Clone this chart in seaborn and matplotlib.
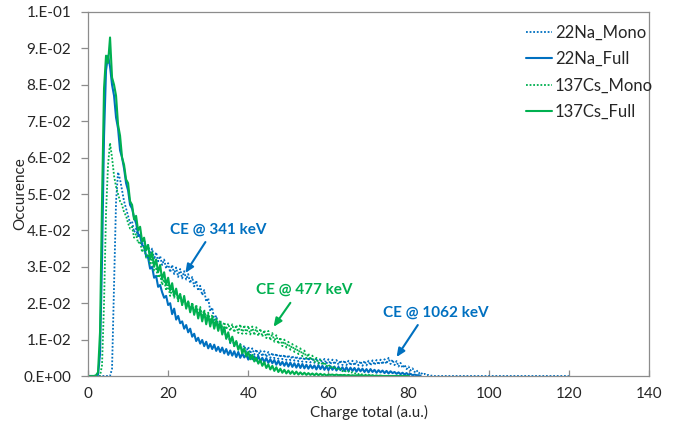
import numpy as np
import pandas as pd
import matplotlib
matplotlib.use("Agg")
import matplotlib.pyplot as plt
import seaborn as sns
from matplotlib.ticker import MultipleLocator, FuncFormatter

# Charge bins are 0.5 a.u. wide, starting at 0; occurrences are given in units of 1e-3.
charge_step = 0.5

na_mono = [
    0, 0, 0, 0, 0, 0, 0, 0, 0, 0,
    0, 0, 2, 25, 48, 56, 54, 51, 48, 46,
    44, 42, 42.5, 39.5, 40.5, 38, 39, 36, 37.5, 35,
    36, 33.5, 35, 32, 34, 31.5, 33, 30.5, 32, 29.5,
    31, 28.5, 30.5, 28, 29.8, 27.2, 29.4, 26.8, 28.8, 26.5,
    28, 25.5, 27.2, 24.6, 26.2, 23.4, 24.8, 22.2, 23.6, 20.4,
    21.4, 17.8, 18.8, 15.4, 16.6, 13.6, 14.8, 11.8, 13.2, 10.2,
    11.4, 9.0, 10.4, 8.2, 9.6, 7.6, 8.8, 7.0, 8.4, 6.6,
    8.0, 6.2, 7.6, 5.9, 7.3, 5.6, 7.0, 5.4, 6.8, 5.2,
    6.6, 5.0, 6.4, 4.9, 6.2, 4.7, 6.0, 4.6, 5.9, 4.4,
    5.8, 4.3, 5.6, 4.2, 5.5, 4.0, 5.3, 3.9, 5.2, 3.8,
    5.1, 3.7, 5.0, 3.6, 4.9, 3.5, 4.8, 3.4, 4.7, 3.3,
    4.6, 3.2, 4.5, 3.2, 4.4, 3.1, 4.3, 3.0, 4.3, 3.0,
    4.2, 2.9, 4.2, 2.9, 4.1, 2.9, 4.1, 2.8, 4.2, 2.9,
    4.2, 2.9, 4.3, 3.0, 4.4, 3.1, 4.5, 3.2, 4.6, 3.3,
    5.0, 3.3, 4.5, 3.0, 4.1, 2.6, 3.6, 2.2, 3.1, 1.9,
    2.6, 1.5, 2.1, 1.1, 1.6, 0.7, 1.1, 0.4, 0.6, 0.2,
    0.3, 0.1, 0.1, 0, 0, 0, 0, 0, 0, 0,
    0, 0, 0, 0, 0, 0, 0, 0, 0, 0,
    0, 0, 0, 0, 0, 0, 0, 0, 0, 0,
    0, 0, 0, 0, 0, 0, 0, 0, 0, 0,
    0, 0, 0, 0, 0, 0, 0, 0, 0, 0,
    0, 0, 0, 0, 0, 0, 0, 0, 0, 0,
    0, 0, 0, 0, 0, 0, 0, 0, 0, 0,
    0,
]

na_full = [
    0, 0, 0, 0, 0, 0.3, 6, 32, 66, 84,
    88, 85, 80, 77, 71, 68, 62, 60, 57, 53,
    51, 47, 46, 43.5, 42, 39, 38.5, 36, 35.5, 33,
    32.5, 29.5, 30, 27, 27.5, 24.5, 25, 23, 21.5, 22,
    19.5, 20, 17, 18.5, 15.5, 16.5, 14.5, 15, 13, 14,
    12, 13, 10.8, 11.6, 9.6, 10.5, 8.9, 9.9, 8.2, 9.4,
    7.6, 8.8, 7.4, 8.6, 6.9, 8.0, 6.6, 7.8, 6.2, 7.4,
    5.8, 7.0, 5.6, 6.8, 5.2, 6.6, 5.0, 6.2, 5.1, 5.9,
    4.5, 5.8, 4.6, 5.4, 4.2, 5.5, 4.0, 5.0, 3.8, 4.9,
    3.6, 4.6, 3.5, 4.4, 3.1, 4.2, 3.0, 3.9, 2.8, 3.8,
    2.6, 3.7, 2.5, 3.5, 2.3, 3.4, 2.2, 3.3, 2.1, 3.1,
    2.0, 3.0, 2.1, 2.9, 1.8, 3.0, 1.9, 2.8, 1.7, 2.7,
    1.6, 2.7, 1.7, 2.6, 1.5, 2.5, 1.6, 2.4, 1.4, 2.4,
    1.3, 2.3, 1.4, 2.2, 1.2, 2.1, 1.3, 2.0, 1.1, 1.9,
    1.0, 1.9, 1.1, 1.7, 0.9, 1.6, 1.0, 1.5, 0.8, 1.4,
    0.7, 1.3, 0.8, 1.1, 0.6, 1.0, 0.5, 0.9, 0.4, 0.8,
    0.3, 0.6, 0.2, 0.4, 0.2, 0.2, 0.1,
]

cs_mono = [
    0, 0, 0, 0, 0, 0, 0, 3, 20, 45,
    58, 64, 60, 55, 52, 50, 48, 47, 45, 44,
    42, 40.5, 41, 38, 39, 36.5, 37, 34, 35.5, 32.5,
    33.5, 30.5, 32, 29, 29.5, 27, 28, 25, 26.5, 23.5,
    25, 22, 24, 21.5, 23.5, 20.5, 22.5, 19.5, 21.5, 19,
    20.6, 18, 20.2, 17.4, 19.6, 16.8, 19.0, 16.2, 18.2, 15.8,
    17.4, 15.0, 16.8, 14.4, 16.0, 13.8, 15.4, 13.2, 14.8, 12.8,
    14.4, 12.4, 14.2, 12.0, 14.0, 11.8, 14.2, 11.6, 14.0, 11.6,
    13.8, 11.4, 13.6, 11.2, 13.4, 11.0, 13.0, 10.8, 12.6, 10.4,
    12.4, 9.8, 11.8, 9.4, 11.2, 8.8, 10.6, 8.2, 10.0, 7.8,
    9.4, 7.2, 8.8, 6.6, 8.2, 6.0, 7.6, 5.4, 7.0, 4.8,
    6.2, 4.4, 5.6, 3.8, 5.0, 3.4, 4.4, 3.0, 3.8, 2.6,
    3.2, 2.2, 2.8, 1.9, 2.4, 1.6, 2.0, 1.3, 1.6, 1.1,
    1.3, 0.9, 1.0, 0.7, 0.8, 0.5, 0.6, 0.4, 0.4, 0.3,
    0.3, 0.2, 0.2, 0.1, 0.1, 0.1, 0, 0, 0, 0,
    0,
]

cs_full = [
    0, 0, 0, 0, 0.2, 1, 12, 48, 79, 88,
    86, 93, 82, 80, 77, 69, 66, 60, 58, 54,
    53, 48, 47, 43, 44, 40, 41, 37, 38, 34.5,
    36, 32, 34, 30, 32, 28.5, 30.5, 26.5, 28.5, 25,
    27, 23.5, 25.5, 22, 24, 21, 22.5, 19.5, 22, 18.5,
    20.5, 17.5, 19.8, 16.8, 19, 15.8, 18.2, 15, 17.6, 14.2,
    16.8, 13.6, 16.0, 13.0, 15.2, 12.4, 14.6, 11.4, 13.4, 10.2,
    12.0, 9.2, 10.8, 8.2, 9.6, 7.2, 8.6, 6.2, 7.6, 5.4,
    6.6, 4.6, 5.8, 4.0, 5.0, 3.4, 4.4, 2.8, 3.8, 2.2,
    3.2, 1.8, 2.8, 1.4, 2.4, 1.1, 2.0, 0.9, 1.7, 0.7,
    1.5, 0.6, 1.3, 0.5, 1.2, 0.4, 1.0, 0.4, 0.9, 0.3,
    0.8, 0.3, 0.7, 0.2, 0.7, 0.2, 0.6, 0.2, 0.5, 0.1,
    0.4, 0.3, 0.4, 0.2, 0.4, 0.2, 0.3, 0.2, 0.3, 0.1,
    0.3, 0.1, 0.2, 0.1, 0.2, 0.1, 0.2, 0.1, 0.1, 0.1,
    0.1, 0.1, 0.1, 0, 0.1, 0, 0.1, 0, 0, 0,
    0, 0, 0, 0, 0, 0, 0, 0, 0, 0,
    0,
]

series_names = ["22Na_Mono", "22Na_Full", "137Cs_Mono", "137Cs_Full"]
series_values = [na_mono, na_full, cs_mono, cs_full]

# Compton-edge callouts: label, text position, arrow start, arrow tip (data units)
ce_labels = ["CE @ 341 keV", "CE @ 477 keV", "CE @ 1062 keV"]
ce_text_xy = [(32.6, 0.0401), (54.0, 0.0236), (86.8, 0.0173)]
ce_arrow_from = [(29.3, 0.0368), (50.5, 0.0201), (82.3, 0.0140)]
ce_arrow_to = [(24.3, 0.0283), (46.3, 0.0135), (77.0, 0.0052)]

BLUE = "#0070C0"
GREEN = "#00B050"
styles = {
    "22Na_Mono": dict(color=BLUE, linestyle=(0, (1, 1)), linewidth=1.3),
    "22Na_Full": dict(color=BLUE, linestyle="-", linewidth=1.5),
    "137Cs_Mono": dict(color=GREEN, linestyle=(0, (1, 1)), linewidth=1.3),
    "137Cs_Full": dict(color=GREEN, linestyle="-", linewidth=1.5),
}
ce_colors = [BLUE, GREEN, BLUE]

frames = []
for name, vals in zip(series_names, series_values):
    v = np.asarray(vals, dtype=float) * 1e-3
    frames.append(pd.DataFrame({
        "charge": np.arange(len(v)) * charge_step,
        "occurence": v,
        "series": name,
    }))
data = pd.concat(frames, ignore_index=True)

sns.set_theme(style="white")
plt.rcParams["font.family"] = ["Lato", "DejaVu Sans"]

fig = plt.figure(figsize=(6.81, 4.30), dpi=100)
ax = fig.add_axes([88 / 681, 54 / 430, 561 / 681, 364 / 430])

for name in series_names:
    sub = data[data["series"] == name]
    sns.lineplot(data=sub, x="charge", y="occurence", ax=ax, label=name,
                 estimator=None, sort=True, **styles[name])

ax.set_xlim(0, 140)
ax.set_ylim(0, 0.1)
ax.xaxis.set_major_locator(MultipleLocator(20))
ax.yaxis.set_major_locator(MultipleLocator(0.01))


def sci_label(v, pos):
    if abs(v) < 1e-12:
        return "0.E+00"
    e = int(np.floor(np.log10(abs(v)) + 1e-9))
    m = int(round(v / 10 ** e))
    if m == 10:
        m, e = 1, e + 1
    return f"{m}.E{e:+03d}"


ax.yaxis.set_major_formatter(FuncFormatter(sci_label))

frame_color = "#8c8c8c"
for sp in ax.spines.values():
    sp.set_visible(True)
    sp.set_color(frame_color)
    sp.set_linewidth(0.9)

text_color = "#262626"
ax.tick_params(axis="x", direction="in", length=4, width=0.9, color=frame_color,
               labelsize=11, labelcolor=text_color, pad=8, bottom=True)
ax.tick_params(axis="y", direction="out", length=5, width=0.9, color=frame_color,
               labelsize=11, labelcolor=text_color, pad=7, left=True)

ax.set_xlabel("Charge total (a.u.)", fontsize=11, color=text_color)
ax.set_ylabel("Occurence", fontsize=11, color=text_color)
ax.xaxis.label.set_va("center")
ax.yaxis.label.set_va("center")
ax.xaxis.set_label_coords(0.5, (376 - 412) / 364)
ax.yaxis.set_label_coords((20 - 88) / 561, 0.5)

for label, txy, a0, a1, c in zip(ce_labels, ce_text_xy, ce_arrow_from, ce_arrow_to, ce_colors):
    ax.text(txy[0], txy[1], label, ha="center", va="center", color=c,
            fontsize=11, fontweight="bold")
    ax.annotate("", xy=a1, xytext=a0,
                arrowprops=dict(arrowstyle="-|>,head_length=0.5,head_width=0.22",
                                color=c, lw=1.5, mutation_scale=10,
                                shrinkA=0, shrinkB=0))

ax.legend(frameon=False, loc="upper left", bbox_to_anchor=(0.78, 0.965),
          handlelength=1.6, handletextpad=0.15, labelspacing=0.62,
          fontsize=12, borderpad=0, borderaxespad=0, labelcolor=text_color)

fig.savefig("out.png", dpi=100)
